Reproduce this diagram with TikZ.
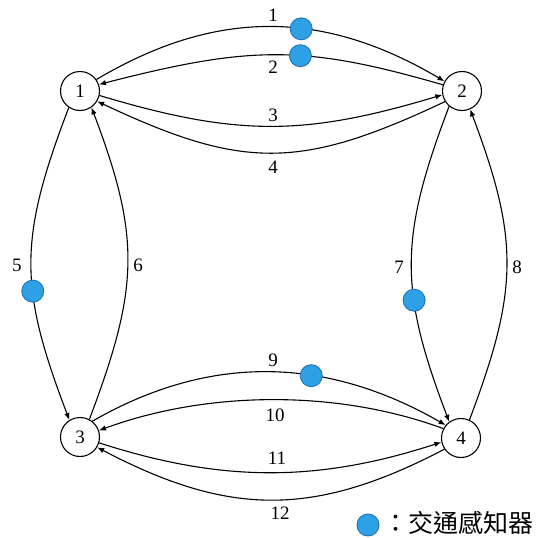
\documentclass[tikz,border=0pt]{standalone}
\usepackage{fontspec}
\setmainfont{Liberation Serif}
\newfontfamily\cjk{Noto Sans CJK TC}
\usetikzlibrary{arrows.meta}
\definecolor{sensorfill}{RGB}{46,160,230}
\definecolor{sensordraw}{RGB}{35,115,180}
\tikzset{
  vert/.style={circle,draw,line width=1.1pt,minimum size=39pt,inner sep=0pt,font=\fontsize{19}{22}\selectfont},
  edge/.style={line width=1.1pt,-{Latex[length=7pt,width=5.5pt]}},
  lab/.style={font=\fontsize{19}{22}\selectfont,inner sep=0pt},
  sensor/.style={circle,fill=sensorfill,draw=sensordraw,line width=0.9pt,minimum size=22pt,inner sep=0pt}
}
\begin{document}
\begin{tikzpicture}[x=1pt,y=-1pt]
\useasboundingbox (0,0) rectangle (555,538);
\node[vert] (n1) at (80,91) {1};
\node[vert] (n2) at (462,91) {2};
\node[vert] (n3) at (80,437) {3};
\node[vert] (n4) at (461,438) {4};
% top
\draw[edge] (n1.35) .. controls (217,8) and (324,10) .. node[sensor,pos=0.59] (s1) {} (n2.151);
\draw[edge] (n2.162) .. controls (305,45) and (252,45) .. node[sensor,pos=0.42] (s2) {} (n1.19);
\draw[edge] (n1.-13) .. controls (238,137) and (305,136) .. (n2.191);
\draw[edge] (n2.212) .. controls (300,170) and (243,170) .. (n1.-31);
% left
\draw[edge] (n1.236) .. controls (18,240) and (19,288) .. node[sensor,pos=0.6] (s5) {} (n3.122);
\draw[edge] (n3.62) .. controls (139,288) and (141,238) .. (n1.-55);
% right
\draw[edge] (n2.230) .. controls (399,238) and (399,290) .. node[sensor,pos=0.63] (s7) {} (n4.126);
\draw[edge] (n4.65) .. controls (519,289) and (519,239) .. (n2.-66);
% bottom
\draw[edge] (n3.52) .. controls (211,353) and (327,357) .. node[sensor,pos=0.62] (s9) {} (n4.140);
\draw[edge] (n4.152) .. controls (336,389) and (206,391) .. (n3.19);
\draw[edge] (n3.-17) .. controls (223,483) and (319,482) .. (n4.192);
\draw[edge] (n4.214) .. controls (313,518) and (228,516) .. (n3.-31);
% labels
\node[lab] (l1) at (273,15) {1};
\node[lab] (l2) at (273,67) {2};
\node[lab] (l3) at (273,115) {3};
\node[lab] (l4) at (273,167) {4};
\node[lab] (l5) at (17,265) {5};
\node[lab] (l6) at (138,265) {6};
\node[lab] (l7) at (399,267) {7};
\node[lab] (l8) at (517,267) {8};
\node[lab] (l9) at (273,360) {9};
\node[lab] (l10) at (275,415) {10};
\node[lab] (l11) at (277,458) {11};
\node[lab] (l12) at (280,513) {12};
% legend
\node[sensor] (ls) at (368,525) {};
\node[anchor=west,inner sep=0pt,font=\cjk\fontsize{25}{28}\selectfont] (lt) at (383,523) {：交通感知器};
\end{tikzpicture}
\end{document}
